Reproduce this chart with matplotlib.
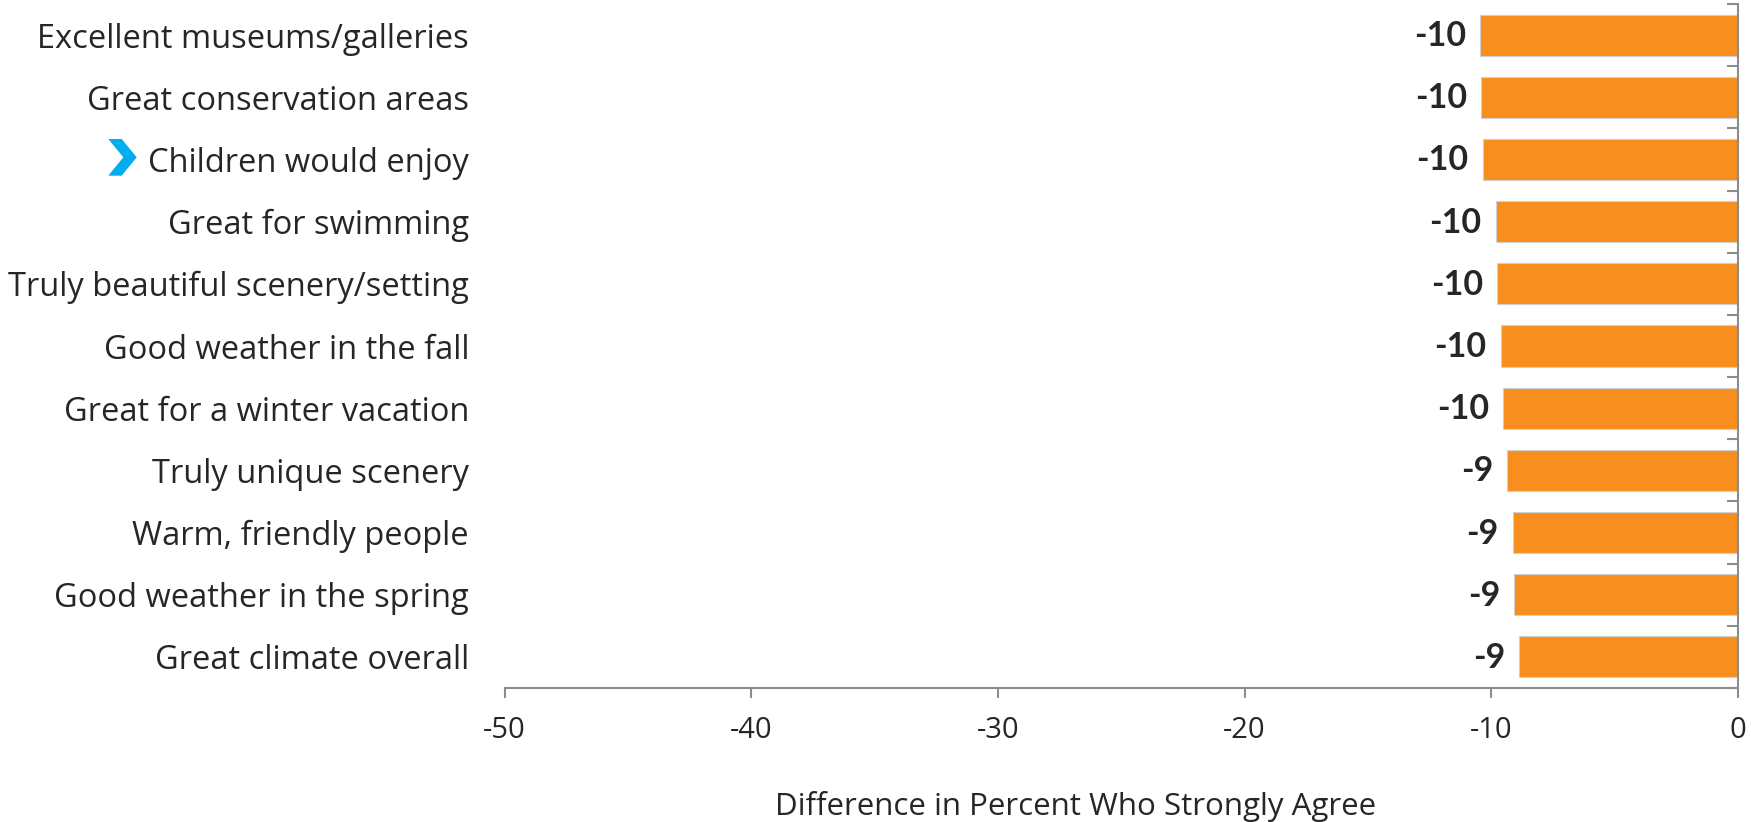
import matplotlib
matplotlib.use("Agg")
import matplotlib.pyplot as plt
from matplotlib.patches import Polygon

plt.rcParams['font.family'] = ['Open Sans', 'DejaVu Sans']

# categories, top to bottom
categories = [
    'Excellent museums/galleries',
    'Great conservation areas',
    'Children would enjoy',
    'Great for swimming',
    'Truly beautiful scenery/setting',
    'Good weather in the fall',
    'Great for a winter vacation',
    'Truly unique scenery',
    'Warm, friendly people',
    'Good weather in the spring',
    'Great climate overall',
]
values = [-10.46, -10.41, -10.35, -9.82, -9.76, -9.62, -9.51, -9.36, -9.13, -9.07, -8.87]
value_labels = ['-10', '-10', '-10', '-10', '-10', '-10', '-10', '-9', '-9', '-9', '-9']
xticks = [-50, -40, -30, -20, -10, 0]

orange = '#F78E1E'
grey = '#8C8C8C'
text_col = '#262626'

fig = plt.figure(figsize=(17.51, 8.22), dpi=100)
ax = fig.add_axes([504.5 / 1751, 1 - 688 / 822, (1738 - 504.5) / 1751, (688 - 4) / 822])

y = list(range(len(categories)))
ax.barh(y, values, height=0.66, color=orange, edgecolor='#d0d0d0', linewidth=0.8)

for yi, v, lab in zip(y, values, value_labels):
    ax.annotate(lab, (v, yi), xytext=(-14, -1), textcoords='offset pixels',
                ha='right', va='center', fontsize=24.5, fontweight='bold',
                color=text_col, family=['Lato', 'DejaVu Sans'])

ax.set_xlim(-50, 0)
ax.set_ylim(len(categories) - 0.5, -0.5)
ax.set_xticks(xticks)
ax.set_xticklabels([str(t) for t in xticks])
ax.set_yticks(y)
ax.set_yticklabels(categories)
ax.set_yticks([i - 0.5 for i in range(len(categories) + 1)], minor=True)

for s in ['top', 'left']:
    ax.spines[s].set_visible(False)
for s in ['bottom', 'right']:
    ax.spines[s].set_color(grey)
    ax.spines[s].set_linewidth(1.5)

ax.tick_params(axis='y', which='major', length=0, pad=25.5, labelsize=23.5, labelcolor=text_col)
ax.tick_params(axis='y', which='minor', left=False, right=True, direction='in',
               length=8, width=1.5, color=grey)
ax.tick_params(axis='x', which='major', direction='out', length=7, width=1.5,
               color=grey, pad=13, labelsize=21, labelcolor=text_col)

fig.text(1076 / 1751, 1 - 806 / 822, 'Difference in Percent Who Strongly Agree',
         ha='center', va='center', fontsize=22.5, color=text_col)

# blue chevron marker next to "Children would enjoy"
pts = [(108.3, 139), (121.7, 139), (136.7, 157.3), (121.7, 175.7), (108.3, 175.7), (123.3, 157.3)]
chev = Polygon([(px / 1751, 1 - py / 822) for px, py in pts], closed=True,
               transform=fig.transFigure, facecolor='#00AEEF', edgecolor='none')
fig.patches.append(chev)

fig.savefig('out.png', dpi=100)
